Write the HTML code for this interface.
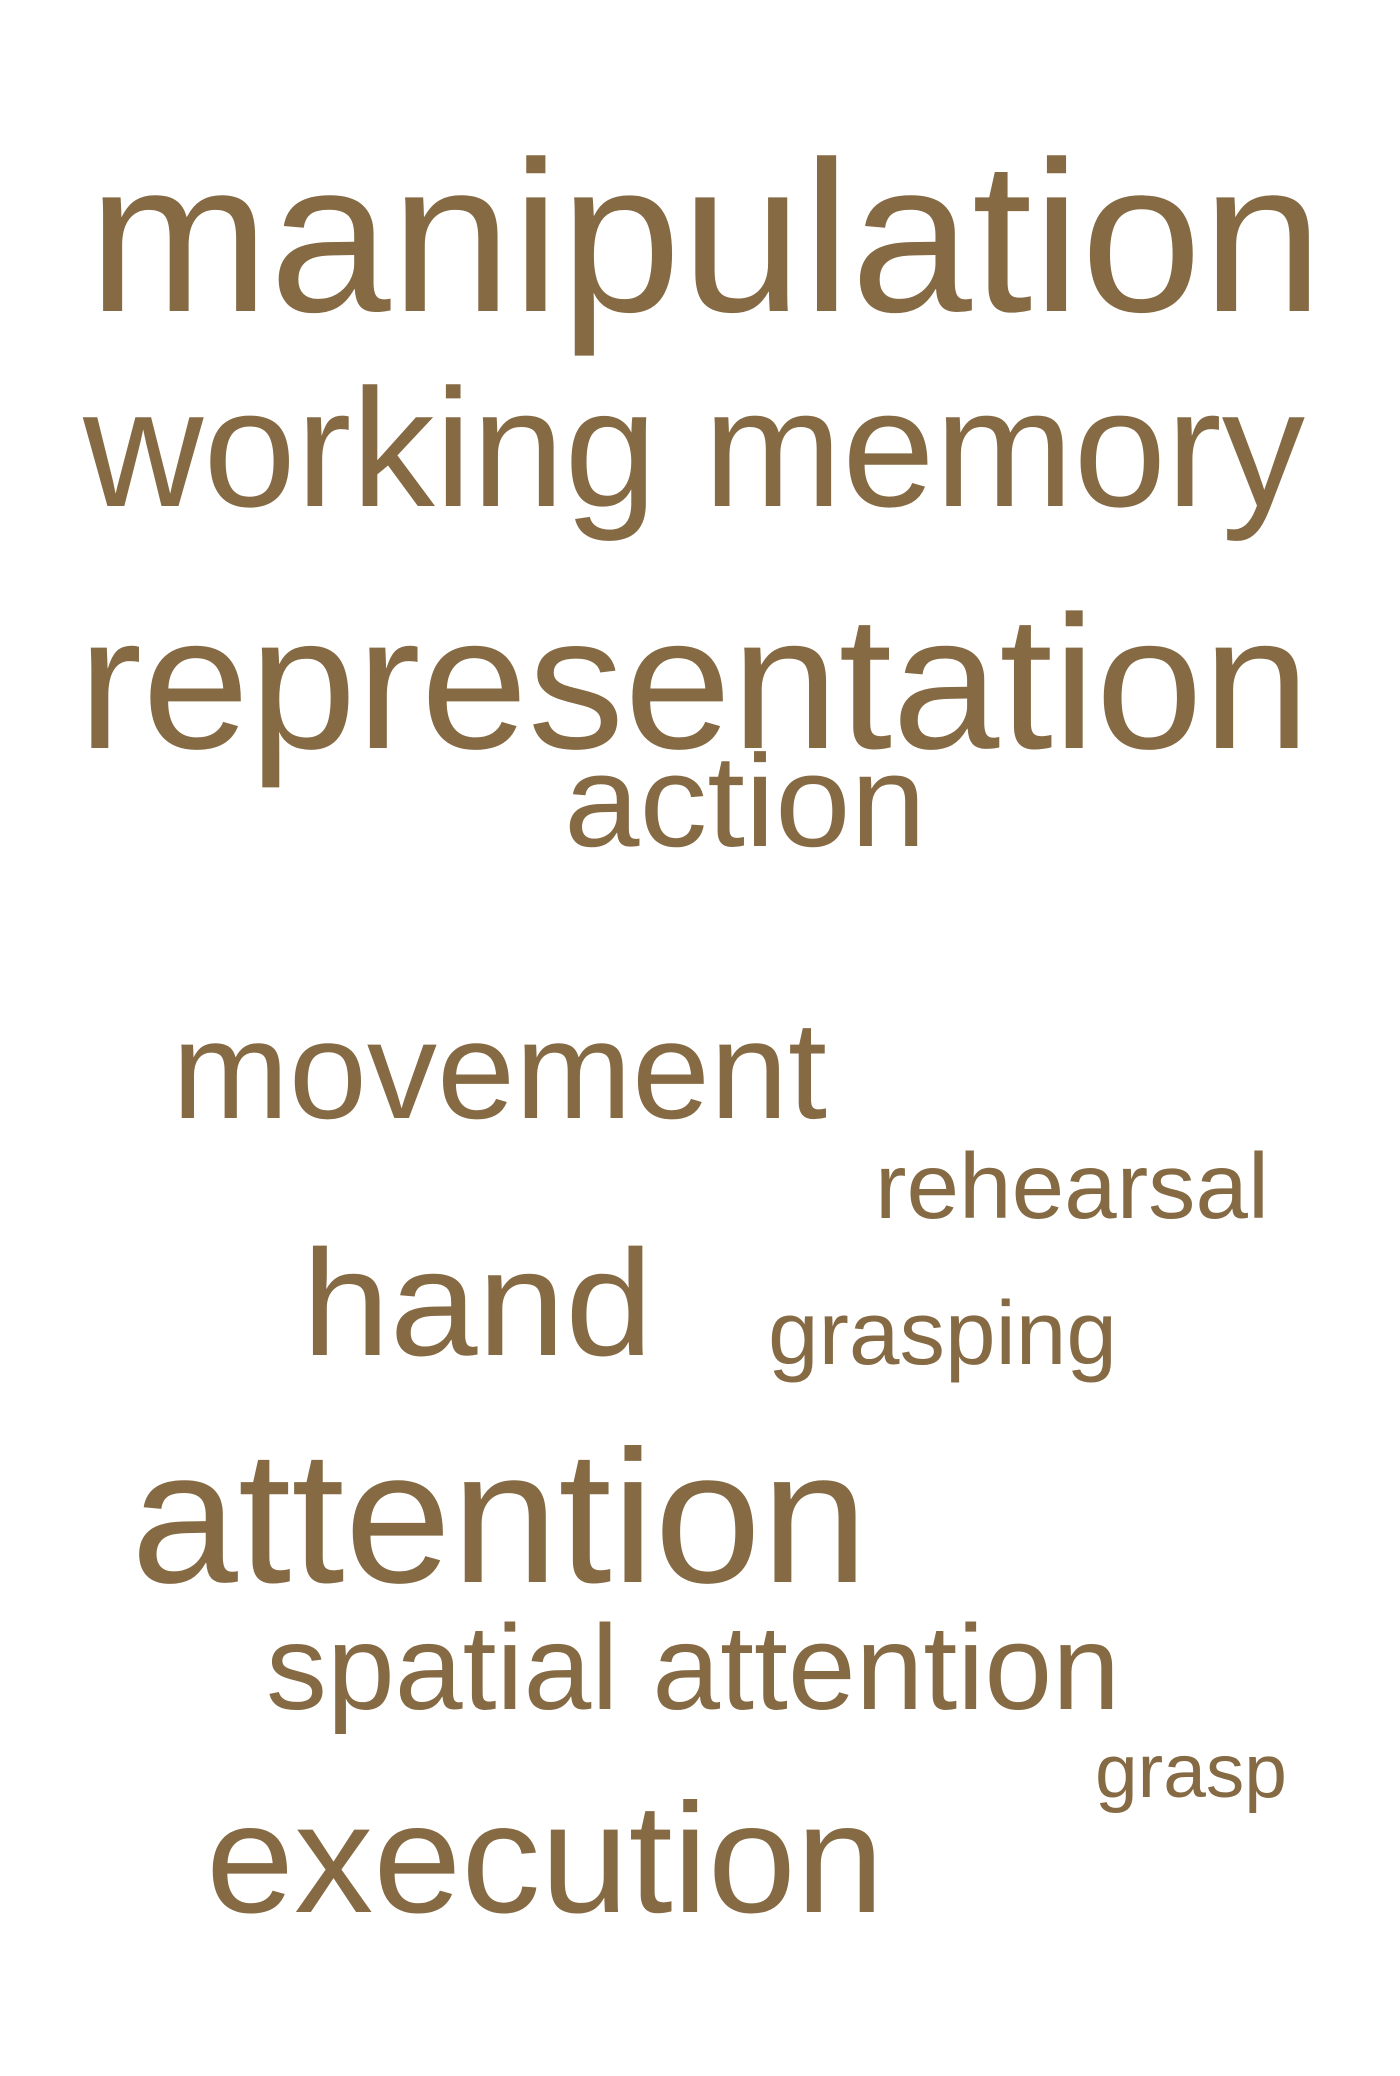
<!DOCTYPE html>
<html><head><meta charset="utf-8"><style>
html,body{margin:0;padding:0;background:#fff;}
svg{display:block;}
text{font-family:"Liberation Sans",Arial,sans-serif;fill:#856a44;}
</style></head><body>
<svg id="cloud" width="1400" height="2076" viewBox="0 0 1400 2076" xmlns="http://www.w3.org/2000/svg"></svg>
<script>
const words = ["manipulation","working memory","representation","action","movement","rehearsal","hand","grasping","attention","spatial attention","grasp","execution"];
const fontSizes = [215,168,190,131,139,93,151,90,189,121,76,156];
const layoutX = [88,83,78,564,172,875,302,768,131,266,1095,206];
const layoutY = [311,506,748,846,1118,1218,1355,1364,1582,1709,1797,1912];
const layoutW = [1235,1222,1232,362,655,394,351,349,737,854,192,678];
const svg = document.getElementById('cloud');
words.forEach((w,i)=>{
  const t = document.createElementNS('http://www.w3.org/2000/svg','text');
  
  
  t.setAttribute('x', layoutX[i]);
  t.setAttribute('y', layoutY[i]);
  t.setAttribute('font-size', fontSizes[i]);
  t.setAttribute('textLength', layoutW[i]);
  t.setAttribute('lengthAdjust', 'spacingAndGlyphs');
  t.textContent = w;
  svg.appendChild(t);
});
</script>
</body></html>
